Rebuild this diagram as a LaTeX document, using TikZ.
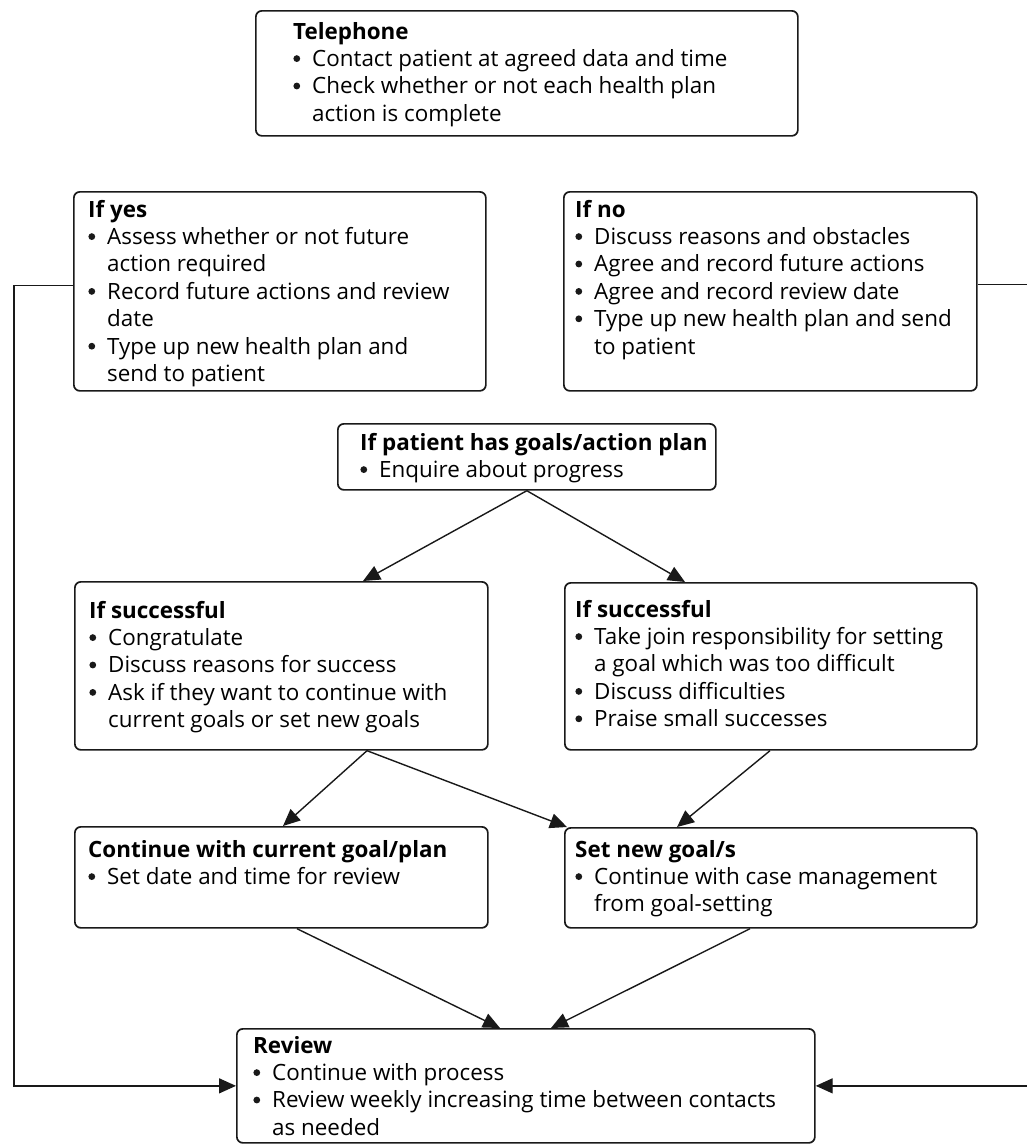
\documentclass[tikz,border=0pt]{standalone}
\usepackage{fontspec}
\setmainfont{Open Sans}
\usetikzlibrary{arrows.meta,calc}
\newcommand{\bul}{\makebox[19pt][l]{\tikz[baseline=0pt]{\path (0pt,0pt); \fill[black!90] (3.6pt,7.8pt) circle[radius=3.4pt];}}}
\newcommand{\cnt}{\hspace*{19pt}}
\newcommand{\hd}[1]{\textbf{#1}}
\tikzset{
  box/.style={draw=black!90, line width=1.7pt, rounded corners=6pt, anchor=north west, inner sep=0pt},
  txt/.style={anchor=base west, inner sep=0pt, font=\fontsize{22.4}{27.4}\selectfont},
  conn/.style={line width=1.4pt, draw=black!90, -{Triangle[length=17pt,width=15pt]}}
}
\newcommand{\tb}[1]{\parbox[t]{600pt}{\raggedright #1}}
\begin{document}
\begin{tikzpicture}[x=1pt,y=-1pt]
\useasboundingbox[fill=white] (0,0) rectangle (1027,1144);
% boxes
\node[box, minimum width=542pt, minimum height=125pt] (tel) at (255,10) {};
\node[box, minimum width=412pt, minimum height=199pt] (yes) at (73,191) {};
\node[box, minimum width=413pt, minimum height=199pt] (no) at (563,191) {};
\node[box, minimum width=378pt, minimum height=66pt] (goals) at (337,423) {};
\node[box, minimum width=413pt, minimum height=168pt] (ls) at (74,581) {};
\node[box, minimum width=412pt, minimum height=167pt] (rs) at (564,582) {};
\node[box, minimum width=413pt, minimum height=101pt] (cont) at (74,826) {};
\node[box, minimum width=412pt, minimum height=100pt] (sn) at (564,827) {};
\node[box, minimum width=578pt, minimum height=114pt] (rev) at (236,1028) {};
% texts
\node[txt] (telt) at ($(tel.north west)+(38,29)$) {\tb{\hd{Telephone}\\
\bul Contact patient at agreed data and time\\
\bul Check whether or not each health plan\\
\cnt action is complete}};
\node[txt] (yest) at ($(yes.north west)+(15,26)$) {\tb{\hd{If yes}\\
\bul Assess whether or not future\\
\cnt action required\\
\bul Record future actions and review\\
\cnt date\\
\bul Type up new health plan and\\
\cnt send to patient}};
\node[txt] (not) at ($(no.north west)+(12,26)$) {\tb{\hd{If no}\\
\bul Discuss reasons and obstacles\\
\bul Agree and record future actions\\
\bul Agree and record review date\\
\bul Type up new health plan and send\\
\cnt to patient}};
\node[txt] (goalst) at ($(goals.north west)+(23,27)$) {\tb{\hd{If patient has goals/action plan}\\
\bul Enquire about progress}};
\node[txt] (lst) at ($(ls.north west)+(15,37)$) {\tb{\hd{If successful}\\
\bul Congratulate\\
\bul Discuss reasons for success\\
\bul Ask if they want to continue with\\
\cnt current goals or set new goals}};
\node[txt] (rst) at ($(rs.north west)+(11,35)$) {\tb{\hd{If successful}\\
\bul Take join responsibility for setting\\
\cnt a goal which was too difficult\\
\bul Discuss difficulties\\
\bul Praise small successes}};
\node[txt] (contt) at ($(cont.north west)+(14,31)$) {\tb{\hd{Continue with current goal/plan}\\
\bul Set date and time for review}};
\node[txt] (snt) at ($(sn.north west)+(11,30)$) {\tb{\hd{Set new goal/s}\\
\bul Continue with case management\\
\cnt from goal-setting}};
\node[txt] (revt) at ($(rev.north west)+(17,25)$) {\tb{\hd{Review}\\
\bul Continue with process\\
\bul Review weekly increasing time between contacts\\
\cnt as needed}};
% connectors
\draw[conn] (goals.south) -- ([xshift=289pt]ls.north west);
\draw[conn] (goals.south) -- ([xshift=121pt]rs.north west);
\draw[conn] ([xshift=293pt]ls.south west) -- ([xshift=209pt]cont.north west);
\draw[conn] ([xshift=293pt]ls.south west) -- ([xshift=3pt]sn.north west);
\draw[conn] ([xshift=206pt]rs.south west) -- ([xshift=113pt]sn.north west);
\draw[conn] ([xshift=223pt]cont.south west) -- ([xshift=264pt]rev.north west);
\draw[conn] ([xshift=186pt]sn.south west) -- ([xshift=315pt]rev.north west);
\coordinate (lx) at (14,0);
\coordinate (rx) at (1045,0);
\draw[conn] ([yshift=6pt]yes.west) -| (lx |- rev.west) -- (rev.west);
\draw[conn] ([yshift=7pt]no.east) -| (rx |- rev.east) -- (rev.east);
\end{tikzpicture}
\end{document}
